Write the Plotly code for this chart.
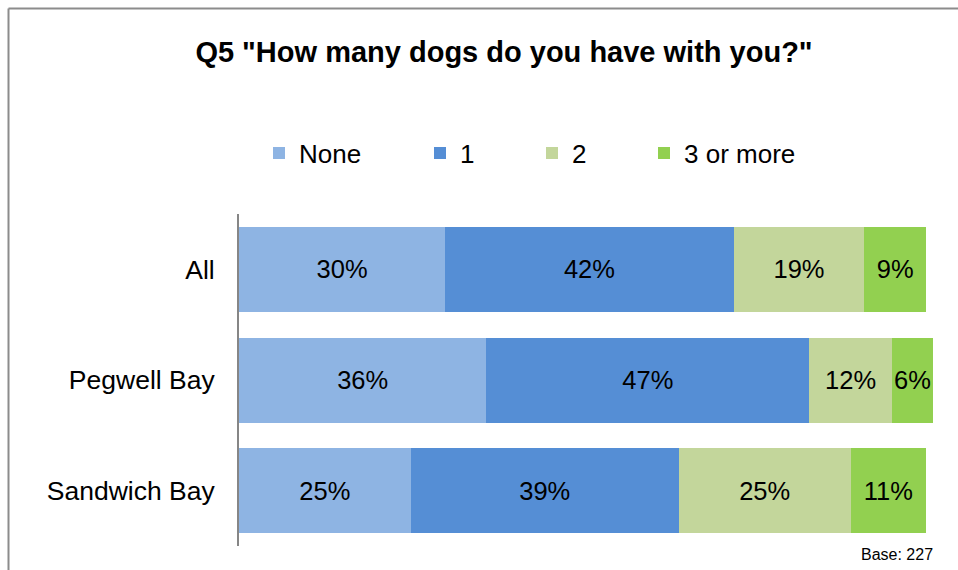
import plotly.graph_objects as go

# Survey responses: Q5 "How many dogs do you have with you?"
locations = ["All", "Pegwell Bay", "Sandwich Bay"]
series_names = ["None", "1", "2", "3 or more"]
none_pct = [30, 36, 25]
one_pct = [42, 47, 39]
two_pct = [19, 12, 25]
three_plus_pct = [9, 6, 11]
series_values = [none_pct, one_pct, two_pct, three_plus_pct]
series_colors = ["#8EB4E3", "#558ED5", "#C3D69B", "#92D050"]
base_note = "Base: 227"

FONT = "Liberation Sans, Arial, sans-serif"
W, H = 958, 570
L, R, T, B = 239, 25, 214, 24

# legend marker centres (px) for the four single-item legends
legend_marker_px = [279, 440, 552, 664]
legend_ids = ["legend", "legend2", "legend3", "legend4"]

fig = go.Figure()
for name, vals, color, lid in zip(series_names, series_values, series_colors, legend_ids):
    fig.add_trace(go.Bar(
        y=locations,
        x=vals,
        name=name,
        orientation="h",
        marker=dict(color=color, line=dict(width=0)),
        text=[f"{v}%" for v in vals],
        textposition="inside",
        insidetextanchor="middle",
        textangle=0,
        constraintext="none",
        textfont=dict(family=FONT, size=25.5, color="#000000"),
        cliponaxis=False,
        legend=lid,
        hoverinfo="skip",
    ))

layout_legends = {}
for lid, cx in zip(legend_ids, legend_marker_px):
    layout_legends[lid] = dict(
        orientation="h",
        xref="container", yref="container",
        x=(cx - 20) / W, xanchor="left",
        y=1 - 153 / H, yanchor="middle",
        font=dict(family=FONT, size=26, color="#000000"),
        bgcolor="rgba(0,0,0,0)",
        borderwidth=0,
    )

fig.update_layout(
    width=W, height=H,
    margin=dict(l=L, r=R, t=T, b=B, pad=0),
    paper_bgcolor="white",
    plot_bgcolor="white",
    barmode="stack",
    bargap=0.232,
    showlegend=True,
    title=dict(
        text='Q5 "How many dogs do you have with you?"',
        font=dict(family=FONT, size=29, color="#000000", weight="bold"),
        xref="container", yref="container",
        x=504 / W, xanchor="center",
        y=1 - 52 / H, yanchor="middle",
    ),
    xaxis=dict(
        range=[0, 101],
        autorange=False,
        visible=False,
        showgrid=False,
        zeroline=False,
    ),
    yaxis=dict(
        categoryorder="array",
        categoryarray=locations,
        autorange="reversed",
        showgrid=False,
        zeroline=False,
        showline=True,
        linecolor="#868686",
        linewidth=2,
        ticks="",
        ticklabelstandoff=17,
        tickfont=dict(family=FONT, size=26.5, color="#000000"),
    ),
    **layout_legends,
)

# outer frame (left and top edges visible within the canvas)
fx0 = (8.5 - L) / (W - L - R)
fy1 = 1 - (8.5 - T) / (H - T - B)
fig.add_shape(type="line", xref="paper", yref="paper",
              x0=fx0, x1=fx0, y0=-0.2, y1=fy1,
              line=dict(color="#8C8C8C", width=2))
fig.add_shape(type="line", xref="paper", yref="paper",
              x0=fx0, x1=1.2, y0=fy1, y1=fy1,
              line=dict(color="#8C8C8C", width=2))

fig.add_annotation(
    text=base_note,
    xref="paper", yref="paper",
    x=(935 - L) / (W - L - R), xanchor="right",
    y=1 - (554 - T) / (H - T - B), yanchor="middle",
    showarrow=False,
    font=dict(family=FONT, size=16, color="#000000"),
)

fig.write_html("out.html")
